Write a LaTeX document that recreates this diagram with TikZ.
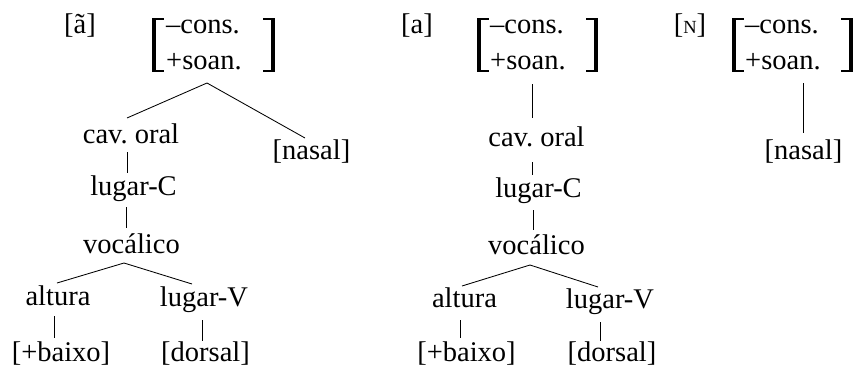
\documentclass[tikz,border=0pt]{standalone}
\usepackage{fontspec}
\setmainfont{Liberation Serif}
\frenchspacing
\newcommand\featlbrack[1]{\fill (#1,17.5) rectangle ++(4,54); \fill (#1,17.5) rectangle ++(12,2); \fill (#1,69.5) rectangle ++(12,2);}
\newcommand\featrbrack[1]{\fill (#1,17.5) rectangle ++(-4,54); \fill (#1,17.5) rectangle ++(-12,2); \fill (#1,69.5) rectangle ++(-12,2);}
\begin{document}
\begin{tikzpicture}[x=1pt,y=-1pt,
  lab/.style={anchor=base,inner sep=0pt,font=\fontsize{28.5}{34}\selectfont\frenchspacing},
  feat/.style={anchor=base west,inner sep=0pt,font=\fontsize{28.5}{34}\selectfont\frenchspacing},
  branch/.style={line width=0.85pt}]
\useasboundingbox (0,0) rectangle (855,367);

% ---------- tree 1 ----------
\node[lab] (seg1) at (80,33) {[ã]};
\featlbrack{152}
\featrbrack{275}
\node[feat] (cons1) at (166,33) {–cons.};
\node[feat] (soan1) at (166,69) {+soan.};
\node[lab] (cav1) at (131,143) {cav.\ oral};
\node[lab] (nas1) at (311.5,159) {[nasal]};
\node[lab] (lugC1) at (133.5,195) {lugar-C};
\node[lab] (voc1) at (131.5,253) {vocálico};
\node[lab] (alt1) at (58,305) {altura};
\node[lab] (lugV1) at (204,306) {lugar-V};
\node[lab] (bai1) at (61,361.5) {[+baixo]};
\node[lab] (dor1) at (205.5,361) {[dorsal]};

\coordinate (r1) at (207,83);
\coordinate (cav1t) at (127,118);
\coordinate (nas1t) at (305,138);
\coordinate (cav1b) at (127,152);
\coordinate (lugC1t) at (127,173);
\coordinate (lugC1b) at (126,207);
\coordinate (voc1t) at (126,228);
\coordinate (v1) at (124,263);
\coordinate (alt1t) at (57,283);
\coordinate (lugV1t) at (192,284);
\coordinate (alt1b) at (54,316);
\coordinate (bai1t) at (54,338);
\coordinate (lugV1b) at (202,320);
\coordinate (dor1t) at (202,341);
\draw[branch] (cav1t) -- (r1) -- (nas1t);
\draw[branch] (cav1b) -- (lugC1t);
\draw[branch] (lugC1b) -- (voc1t);
\draw[branch] (alt1t) -- (v1) -- (lugV1t);
\draw[branch] (alt1b) -- (bai1t);
\draw[branch] (lugV1b) -- (dor1t);

% ---------- tree 2 ----------
\node[lab] (seg2) at (417,33) {[a]};
\featlbrack{477}
\featrbrack{598}
\node[feat] (cons2) at (490,33) {–cons.};
\node[feat] (soan2) at (490,69) {+soan.};
\node[lab] (cav2) at (536.5,146) {cav.\ oral};
\node[lab] (lugC2) at (538.5,197) {lugar-C};
\node[lab] (voc2) at (536.5,254) {vocálico};
\node[lab] (alt2) at (464.5,307) {altura};
\node[lab] (lugV2) at (610,308) {lugar-V};
\node[lab] (bai2) at (466.5,361.5) {[+baixo]};
\node[lab] (dor2) at (612,361.5) {[dorsal]};

\coordinate (r2) at (532,84);
\coordinate (cav2t) at (532,118);
\coordinate (cav2b) at (532,162);
\coordinate (lugC2t) at (532,175);
\coordinate (lugC2b) at (533,210);
\coordinate (voc2t) at (533,230);
\coordinate (v2) at (530,265);
\coordinate (alt2t) at (462,286);
\coordinate (lugV2t) at (598,287);
\coordinate (alt2b) at (460,320);
\coordinate (bai2t) at (460,338);
\coordinate (lugV2b) at (600,322);
\coordinate (dor2t) at (600,341);
\draw[branch] (r2) -- (cav2t);
\draw[branch] (cav2b) -- (lugC2t);
\draw[branch] (lugC2b) -- (voc2t);
\draw[branch] (alt2t) -- (v2) -- (lugV2t);
\draw[branch] (alt2b) -- (bai2t);
\draw[branch] (lugV2b) -- (dor2t);

% ---------- tree 3 ----------
\node[lab] (seg3) at (690,33) {[{\fontsize{18.5}{20}\selectfont N}]};
\featlbrack{732}
\featrbrack{853}
\node[feat] (cons3) at (745,33) {–cons.};
\node[feat] (soan3) at (745,69) {+soan.};
\node[lab] (nas3) at (803.5,159) {[nasal]};
\coordinate (r3) at (803,83);
\coordinate (nas3t) at (803,133);
\draw[branch] (r3) -- (nas3t);
\end{tikzpicture}
\end{document}
